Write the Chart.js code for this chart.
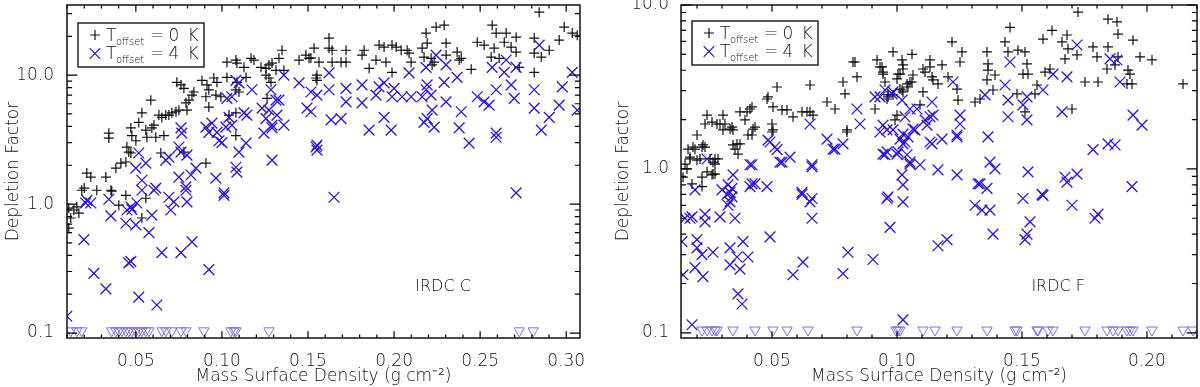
<!DOCTYPE html>
<html>
<head>
<meta charset="utf-8">
<script src="https://cdn.jsdelivr.net/npm/chart.js@4.4.0/dist/chart.umd.min.js"></script>
<style>
html, body { margin: 0; padding: 0; background: #fff; }
#wrap { position: relative; width: 1200px; height: 387px; }
canvas { position: absolute; top: 0; }
#cLeft { left: 0; }
#cRight { left: 600px; }
</style>
</head>
<body>
<div id="wrap">
  <canvas id="cLeft" width="600" height="387"></canvas>
  <canvas id="cRight" width="600" height="387"></canvas>
</div>
<script>
// ---- data: [mass surface density, depletion factor] ----
// IRDC C, T_offset = 0 K
const leftBlack = [
  [0.020,1.33],[0.0215,1.74],[0.0238,1.62],[0.0326,1.62],[0.036,1.26],[0.0384,1.90],[0.0413,2.08],[0.0442,2.12],
  [0.0448,2.77],[0.0459,2.53],[0.0471,2.49],[0.0343,3.25],[0.0343,3.55],[0.0471,3.9],[0.0477,3.4],[0.0517,4.3],
  [0.050,3.1],[0.0535,5.1],[0.0558,3.75],[0.0564,3.3],[0.0593,3.9],[0.0605,4.1],[0.0616,3.3],[0.0587,6.4],
  [0.0634,4.9],[0.0651,4.7],[0.0674,4.9],[0.0692,4.9],[0.0709,5.1],[0.0733,5.2],[0.075,5.35],[0.0663,3.4],
  [0.0645,2.49],[0.0738,8.8],[0.0762,8.4],[0.0779,7.9],[0.0791,6.1],[0.0808,6.4],[0.0826,7.0],[0.0837,7.4],
  [0.0797,5.35],[0.0779,2.53],[0.0907,2.08],[0.0884,9.1],[0.0913,8.4],[0.0924,7.7],[0.0907,6.8],[0.0953,9.5],
  [0.0971,8.8],[0.0924,5.65],[0.0965,7.0],[0.0994,6.8],[0.1029,9.6],[0.1041,4.9],[0.1081,5.1],[0.1029,12.6],
  [0.1081,13.1],[0.1087,12.4],[0.1128,11.5],[0.114,9.6],[0.1087,8.8],[0.1099,7.4],[0.1081,7.7],[0.1081,3.4],
  [0.1169,13.5],[0.1186,13.1],[0.1227,11.5],[0.1256,11.3],[0.1273,12.0],[0.1291,12.4],[0.1314,10.9],[0.1331,13.5],
  [0.1349,15.6],[0.1256,10.0],[0.1273,9.5],[0.1285,8.8],[0.1262,6.6],[0.1448,13.1],[0.1488,14.3],[0.1506,13.5],
  [0.1535,16.2],[0.1547,9.5],[0.136,10.9],[0.1517,13.6],[0.1564,12.6],[0.1552,10.0],[0.1552,9.1],[0.1622,19.4],
  [0.1622,16.2],[0.164,15.6],[0.164,12.6],[0.1692,12.6],[0.1721,15.6],[0.1721,12.6],[0.1826,15.6],[0.1814,14.3],
  [0.1855,11.3],[0.1895,13.1],[0.1913,17.1],[0.1942,16.5],[0.1953,12.6],[0.1988,17.1],[0.2012,16.5],[0.2041,15.6],
  [0.2076,15.6],[0.2087,14.8],[0.2099,12.6],[0.1988,10.5],[0.2163,16.2],[0.2186,21.2],[0.2192,17.7],[0.2174,13.8],
  [0.2215,13.5],[0.2221,12.0],[0.2233,12.6],[0.2244,23.6],[0.2291,24.4],[0.2302,17.7],[0.2302,14.3],[0.2366,15.1],
  [0.2378,13.1],[0.239,13.5],[0.2448,11.1],[0.2483,18.0],[0.2523,17.1],[0.257,24.4],[0.2593,21.2],[0.2581,16.2],
  [0.2564,13.8],[0.261,13.5],[0.2651,21.2],[0.264,18.0],[0.268,16.5],[0.2709,19.7],[0.2709,15.1],[0.2727,11.5],
  [0.2814,19.4],[0.2814,14.8],[0.2855,13.8],[0.2901,15.6],[0.2843,30.8],[0.2959,18.7],[0.2988,23.6],[0.3035,21.2],
  [0.3064,20.4],[0.2814,10.5],[0.011,0.93],[0.014,0.90],[0.0169,0.85],[0.0122,0.78],[0.011,0.65],[0.0401,0.98],
  [0.0442,1.17],[0.0535,0.78],[0.0558,1.11],[0.0355,1.28],[0.0186,1.28],[0.0273,1.28],[0.0157,0.95]
];
// IRDC C, T_offset = 4 K
const leftBlue = [
  [0.0215,1.07],[0.0517,2.49],[0.050,1.90],[0.0535,1.53],[0.0616,1.33],[0.0558,2.08],[0.0674,2.19],[0.0692,2.31],
  [0.0762,3.9],[0.0767,3.55],[0.075,2.77],[0.0762,2.53],[0.0797,2.40],[0.0849,1.90],[0.082,1.68],[0.075,1.62],
  [0.0791,1.36],[0.0907,3.95],[0.0924,3.6],[0.0942,4.25],[0.0971,3.6],[0.0983,3.1],[0.100,3.0],[0.1023,3.95],
  [0.1041,4.7],[0.1058,4.1],[0.0965,1.59],[0.1012,1.22],[0.1081,1.93],[0.1087,1.77],[0.1099,2.53],[0.114,2.97],
  [0.1029,6.6],[0.1058,6.8],[0.1099,8.7],[0.1128,5.1],[0.1145,4.9],[0.1174,7.7],[0.1081,9.1],[0.1233,5.55],
  [0.1256,4.6],[0.1273,5.35],[0.1291,4.1],[0.132,4.9],[0.136,4.1],[0.1244,3.55],[0.1291,3.9],[0.1285,7.7],
  [0.1314,6.4],[0.1291,2.19],[0.136,10.0],[0.1448,8.7],[0.1517,7.4],[0.1494,5.55],[0.1547,2.77],[0.1331,6.4],
  [0.1552,7.0],[0.1517,5.2],[0.1622,10.4],[0.1622,7.7],[0.1634,4.5],[0.1692,4.6],[0.1721,7.9],[0.1721,6.2],
  [0.1552,2.87],[0.1552,2.62],[0.1814,8.4],[0.1814,6.1],[0.1855,3.75],[0.1895,7.0],[0.1913,8.1],[0.1942,8.7],
  [0.1942,4.7],[0.1988,6.8],[0.200,7.9],[0.1983,3.75],[0.2047,6.8],[0.2099,6.8],[0.2087,10.4],[0.2163,6.8],
  [0.2186,7.7],[0.2192,8.4],[0.2215,7.0],[0.2221,5.35],[0.2192,4.6],[0.2174,4.3],[0.2233,3.95],[0.2186,11.5],
  [0.2244,14.3],[0.2302,12.0],[0.2291,8.8],[0.2302,6.2],[0.2366,9.6],[0.239,5.2],[0.2378,3.9],[0.2436,2.97],
  [0.2483,6.8],[0.2523,6.2],[0.2552,5.85],[0.2593,7.7],[0.257,11.5],[0.264,10.5],[0.2651,13.1],[0.268,8.4],
  [0.2698,6.6],[0.2709,11.5],[0.2593,3.55],[0.2593,3.3],[0.2814,7.7],[0.2814,5.55],[0.2855,3.75],[0.2843,17.1],
  [0.2901,4.7],[0.2959,5.85],[0.2977,8.1],[0.3035,10.5],[0.3064,5.35],[0.1651,1.13],[0.2709,1.22],[0.0099,0.135],
  [0.0198,0.53],[0.0209,1.02],[0.0238,1.02],[0.0256,0.29],[0.0326,0.22],[0.0343,1.09],[0.0355,0.81],[0.0442,0.71],
  [0.0459,0.35],[0.0471,0.36],[0.0448,0.90],[0.0477,0.91],[0.0471,0.95],[0.050,0.69],[0.0506,1.02],[0.0517,0.19],
  [0.0535,1.28],[0.0576,0.60],[0.0593,0.82],[0.0605,1.28],[0.0622,0.165],[0.0651,0.42],[0.0692,1.13],[0.0703,0.90],
  [0.0721,1.04],[0.0762,0.42],[0.0797,1.04],[0.0826,0.51],[0.0791,1.28],[0.0924,0.31],[0.1012,1.17]
];
// IRDC C, upper limits (drawn at the floor)
const leftLimX = [
  0.0122,0.0157,0.0186,0.036,0.0384,0.0401,0.0419,0.0442,0.0459,0.0477,0.050,0.0517,0.0535,0.0558,
  0.0576,0.0651,0.0674,0.0709,0.0762,0.0791,0.0895,0.1052,0.107,0.1081,0.1273,0.2727,0.2808
];

// IRDC F, T_offset = 0 K
const rightBlack = [
  [0.0144,0.89],[0.018,0.81],[0.022,0.89],[0.024,0.96],[0.020,1.13],[0.0172,1.15],[0.0212,1.15],[0.0192,1.32],
  [0.022,1.36],[0.0232,1.36],[0.020,1.61],[0.024,2.13],[0.026,1.93],[0.028,1.88],[0.0304,2.13],[0.0312,1.88],
  [0.0332,1.75],[0.034,1.80],[0.0344,1.73],[0.036,1.42],[0.0372,1.42],[0.0364,1.23],[0.0352,1.32],[0.0252,1.15],
  [0.0264,1.10],[0.0284,1.15],[0.0264,0.93],[0.0372,2.23],[0.040,2.23],[0.0412,2.32],[0.042,2.39],[0.0424,1.75],
  [0.0404,1.61],[0.0392,1.99],[0.048,2.67],[0.0484,2.75],[0.052,3.16],[0.0504,2.39],[0.050,1.88],[0.0504,1.73],
  [0.054,2.29],[0.056,2.29],[0.0584,2.08],[0.062,2.23],[0.064,2.23],[0.0652,2.23],[0.0664,2.13],[0.0652,3.25],
  [0.072,2.56],[0.0752,2.32],[0.0784,3.39],[0.0792,2.87],[0.080,1.73],[0.0824,4.49],[0.0832,4.49],[0.084,3.64],
  [0.0912,2.32],[0.092,4.62],[0.094,4.19],[0.0944,3.90],[0.0952,3.39],[0.096,2.67],[0.0964,2.83],[0.0984,5.17],
  [0.100,3.54],[0.1004,3.79],[0.102,4.62],[0.1024,4.07],[0.1012,3.07],[0.102,3.03],[0.1024,2.95],[0.104,3.30],
  [0.106,5.0],[0.106,3.39],[0.100,2.13],[0.0992,1.99],[0.016,1.0],[0.0164,1.32],[0.022,0.78],[0.026,0.92],
  [0.0272,1.15],[0.0232,1.88],[0.0292,1.88],[0.0304,1.73],[0.0432,1.80],[0.042,1.61],[0.050,1.68],[0.0184,1.36],
  [0.0224,1.40],[0.0344,1.40],[0.0172,1.18],[0.0152,1.07],[0.0272,1.07],[0.0272,0.93],[0.080,1.68],[0.0932,4.19],
  [0.0944,3.79],[0.1024,4.31],[0.1064,3.74],[0.1012,3.79],[0.1044,3.16],[0.1052,3.39],[0.0964,2.75],[0.0984,2.83],
  [0.1092,2.46],[0.1104,4.07],[0.1112,3.90],[0.1104,2.95],[0.1132,4.62],[0.1132,4.19],[0.114,3.64],[0.1144,3.49],
  [0.1164,3.30],[0.118,4.31],[0.1204,3.64],[0.122,5.95],[0.126,5.17],[0.1252,4.49],[0.124,3.07],[0.1244,2.63],
  [0.1312,2.56],[0.1332,2.67],[0.136,5.17],[0.1364,4.37],[0.1364,4.01],[0.136,3.49],[0.1392,3.74],[0.1384,3.03],
  [0.1432,5.95],[0.1444,5.17],[0.1452,7.3],[0.148,2.87],[0.1484,5.3],[0.1504,3.79],[0.1512,5.17],[0.152,4.37],
  [0.1524,3.79],[0.1512,2.23],[0.156,3.25],[0.1552,2.87],[0.1584,6.2],[0.1592,3.90],[0.162,7.0],[0.1612,4.07],
  [0.166,5.95],[0.1672,4.69],[0.168,6.56],[0.1684,5.4],[0.170,2.32],[0.172,4.96],[0.1724,9.06],[0.1752,3.39],
  [0.1784,5.55],[0.180,4.82],[0.1804,3.39],[0.1844,8.2],[0.1844,5.55],[0.184,4.07],[0.188,7.9],[0.1884,6.65],
  [0.1872,4.31],[0.1884,4.82],[0.1924,4.01],[0.1932,3.79],[0.194,3.30],[0.192,3.30],[0.1944,6.1],[0.1972,4.82],
  [0.202,4.62],[0.2144,3.30]
];
// IRDC F, T_offset = 4 K
const rightBlue = [
  [0.024,1.15],[0.0344,0.92],[0.042,1.06],[0.0484,1.50],[0.0512,1.36],[0.054,1.10],[0.0572,1.18],[0.0652,1.88],
  [0.066,1.06],[0.072,1.52],[0.0752,1.32],[0.0784,1.42],[0.084,2.32],[0.0912,2.75],[0.0944,1.85],[0.096,1.73],
  [0.096,1.27],[0.0952,1.22],[0.0984,2.95],[0.1004,1.27],[0.102,2.63],[0.1024,1.63],[0.1032,1.46],[0.104,1.22],
  [0.102,0.92],[0.1024,0.80],[0.1052,1.10],[0.1064,1.75],[0.108,2.32],[0.0192,0.745],[0.030,0.745],[0.0332,0.72],
  [0.042,0.81],[0.048,0.78],[0.062,0.70],[0.066,0.66],[0.0964,0.675],[0.0932,2.75],[0.0952,3.03],[0.098,2.87],
  [0.0984,1.73],[0.0944,1.23],[0.100,1.23],[0.1012,1.52],[0.1024,1.42],[0.1032,2.08],[0.1052,2.32],[0.1052,1.07],
  [0.1092,1.06],[0.1112,1.99],[0.112,1.85],[0.1132,2.08],[0.1144,2.13],[0.114,2.56],[0.1132,1.46],[0.118,1.52],
  [0.1164,0.986],[0.1224,3.39],[0.1252,2.13],[0.1252,1.88],[0.124,1.57],[0.124,0.92],[0.1324,0.81],[0.136,0.76],
  [0.1352,2.83],[0.1364,1.57],[0.1372,1.10],[0.1392,1.0],[0.1432,3.25],[0.1444,2.63],[0.1444,2.08],[0.1452,4.49],
  [0.1504,2.46],[0.152,2.75],[0.152,1.99],[0.1584,3.03],[0.1524,0.96],[0.1504,0.66],[0.158,0.70],[0.1624,3.79],
  [0.166,2.23],[0.168,3.64],[0.172,5.7],[0.1672,0.89],[0.168,0.83],[0.172,0.93],[0.1784,1.31],[0.1852,4.69],
  [0.188,4.62],[0.1892,3.39],[0.1844,1.42],[0.1872,1.40],[0.1944,2.13],[0.198,1.85],[0.194,0.78],[0.0152,0.50],
  [0.018,0.51],[0.0232,0.53],[0.0232,0.475],[0.0292,0.51],[0.0352,0.50],[0.032,0.70],[0.034,0.76],[0.0332,0.63],
  [0.034,0.675],[0.0324,0.80],[0.0412,0.78],[0.0432,0.81],[0.0412,1.06],[0.0492,1.46],[0.052,1.31],[0.0532,1.10],
  [0.066,1.03],[0.062,0.72],[0.0652,0.63],[0.066,0.50],[0.0744,1.32],[0.0492,0.385],[0.014,0.36],[0.020,0.37],
  [0.020,0.33],[0.022,0.30],[0.0264,0.31],[0.0332,0.33],[0.0384,0.36],[0.036,0.29],[0.0404,0.29],[0.0332,0.26],
  [0.0372,0.245],[0.0192,0.25],[0.0224,0.22],[0.0144,0.226],[0.0364,0.173],[0.038,0.15],[0.0584,0.226],[0.0624,0.27],
  [0.0784,0.23],[0.0804,0.31],[0.0904,0.28],[0.096,0.66],[0.0972,0.44],[0.1024,0.63],[0.1332,0.81],[0.1312,0.60],
  [0.134,0.56],[0.1372,0.56],[0.1384,0.40],[0.1164,0.34],[0.120,0.37],[0.1024,0.12],[0.1044,1.57],[0.1072,1.73],
  [0.114,1.42],[0.124,1.61],[0.0932,1.68],[0.0852,1.88],[0.018,0.112],[0.0172,0.50],[0.0324,0.60],[0.1532,0.475],
  [0.152,0.40],[0.1512,0.37],[0.1584,0.69],[0.170,0.60],[0.1792,0.50],[0.1804,0.53]
];
// IRDC F, upper limits
const rightLimX = [
  0.022,0.024,0.026,0.0272,0.028,0.0344,0.0432,0.0504,0.056,0.0644,0.084,0.0996,0.1004,0.1012,0.1104,0.1152,
  0.124,0.136,0.1472,0.148,0.156,0.1564,0.1604,0.1624,0.1752,0.184,0.1864,0.1884,0.192,0.1932,0.1944,0.202,
  0.2144,0.2184
];
const limY = 0.104;

const xLabelsLeft = [0.05, 0.10, 0.15, 0.20, 0.25, 0.30];
const xLabelsRight = [0.05, 0.10, 0.15, 0.20];
const yLabels = [0.1, 1, 10];

const FONT = '"DejaVu Sans", sans-serif';
const WEIGHT = '200';
const TEXT = '#111';
const BLUE = '#2a14d8';

// frame, inward ticks, legend and panel label
const framePlugin = {
  id: 'frameTicks',
  afterDatasetsDraw(chart, args, o) {
    const ctx = chart.ctx, a = chart.chartArea;
    const xs = chart.scales.x, ys = chart.scales.y;
    ctx.save();
    ctx.strokeStyle = '#000';
    ctx.lineWidth = 1.4;
    ctx.strokeRect(a.left, a.top, a.right - a.left, a.bottom - a.top);
    ctx.lineWidth = 1.2;
    ctx.beginPath();
    // x ticks every 0.01, long ones at 0.05
    for (let i = Math.ceil(xs.min * 100); i <= Math.floor(xs.max * 100); i++) {
      const px = xs.getPixelForValue(i / 100);
      const len = i % 5 === 0 ? 6.7 : 3.4;
      ctx.moveTo(px, a.bottom); ctx.lineTo(px, a.bottom - len);
      ctx.moveTo(px, a.top); ctx.lineTo(px, a.top + len);
    }
    // log y ticks
    for (let d = 0.01; d <= 100; d *= 10) {
      for (let k = 1; k <= 9; k++) {
        const v = d * k;
        if (v < ys.min || v > ys.max * 1.0001) continue;
        const py = ys.getPixelForValue(v);
        const len = k === 1 ? 10.3 : 5.1;
        ctx.moveTo(a.left, py); ctx.lineTo(a.left + len, py);
        ctx.moveTo(a.right, py); ctx.lineTo(a.right - len, py);
      }
    }
    ctx.stroke();

    // legend box
    const bx = a.left + o.legendDx, by = a.top + o.legendDy;
    ctx.lineWidth = 1.3;
    ctx.strokeRect(bx, by, 126, 44);
    const rows = [
      { color: '#111', t: '0' },
      { color: BLUE, t: '4' }
    ];
    rows.forEach((r, i) => {
      const cy = by + 12 + i * 18.5;
      const mx = bx + 17;
      ctx.strokeStyle = r.color;
      ctx.lineWidth = 1.2;
      ctx.beginPath();
      if (i === 0) {
        ctx.moveTo(mx - 5, cy); ctx.lineTo(mx + 5, cy);
        ctx.moveTo(mx, cy - 5); ctx.lineTo(mx, cy + 5);
      } else {
        ctx.moveTo(mx - 5.3, cy - 5.3); ctx.lineTo(mx + 5.3, cy + 5.3);
        ctx.moveTo(mx + 5.3, cy - 5.3); ctx.lineTo(mx - 5.3, cy + 5.3);
      }
      ctx.stroke();
      ctx.fillStyle = TEXT;
      ctx.textBaseline = 'alphabetic';
      ctx.textAlign = 'left';
      const base = by + 17.5 + i * 18.5;
      ctx.font = WEIGHT + ' 17px ' + FONT;
      ctx.fillText('T', bx + 28, base);
      ctx.font = WEIGHT + ' 10px ' + FONT;
      ctx.fillText('offset', bx + 38, base + 4);
      ctx.font = WEIGHT + ' 17px ' + FONT;
      ctx.textAlign = 'center';
      ctx.fillText('=', bx + 79, base);
      ctx.fillText(r.t, bx + 96, base);
      ctx.fillText('K', bx + 115, base);
    });

    // panel label
    ctx.font = WEIGHT + ' 16px ' + FONT;
    ctx.fillStyle = TEXT;
    ctx.textAlign = 'center';
    ctx.textBaseline = 'middle';
    ctx.fillText(o.label, a.left + o.labelFx * (a.right - a.left), a.top + o.labelFy * (a.bottom - a.top));
    ctx.restore();
  }
};

function pts(arr) {
  return arr.map(p => ({ x: p[0], y: p[1] }));
}

function makePanel(id, p) {
  const font = { family: FONT, size: 17, weight: WEIGHT };
  return new Chart(document.getElementById(id), {
    type: 'scatter',
    data: {
      datasets: [
        { data: pts(p.black), pointStyle: 'cross', pointRadius: 5, borderColor: '#111', borderWidth: 1.2, order: 3, clip: 0 },
        { data: pts(p.blue), pointStyle: 'crossRot', pointRadius: 7.6, borderColor: BLUE, borderWidth: 1.3, order: 2, clip: 0 },
        { data: p.lim.map(v => ({ x: v, y: limY })), pointStyle: 'triangle', rotation: 180, pointRadius: 6,
          borderColor: '#7c72e4', backgroundColor: 'rgba(0,0,0,0)', borderWidth: 1, order: 1, clip: 0 }
      ]
    },
    options: {
      responsive: false,
      animation: false,
      devicePixelRatio: 1,
      events: [],
      layout: { autoPadding: false, padding: { left: 0, right: p.padRight, top: 5, bottom: 0 } },
      plugins: {
        legend: { display: false },
        tooltip: { enabled: false },
        frameTicks: { legendDx: p.legendDx, legendDy: p.legendDy, label: p.label, labelFx: p.labelFx, labelFy: 0.847 }
      },
      scales: {
        x: {
          type: 'linear', min: p.xMin, max: p.xMax,
          grid: { display: false }, border: { display: false },
          afterBuildTicks: s => { s.ticks = p.xLabels.map(v => ({ value: v })); },
          afterFit: s => { s.height = 49; s.paddingLeft = 0; s.paddingRight = 0; },
          ticks: { autoSkip: false, maxRotation: 0, padding: 5, color: TEXT, font: font,
                   callback: v => Number(v).toFixed(2) },
          title: { display: true, text: 'Mass Surface Density (g cm\u207B\u00B2)', color: TEXT,
                   font: font, padding: { top: 0, bottom: 0 } }
        },
        y: {
          type: 'logarithmic', min: p.yMin, max: p.yMax,
          grid: { display: false }, border: { display: false },
          afterBuildTicks: s => { s.ticks = yLabels.map(v => ({ value: v })); },
          afterFit: s => { s.width = p.yWidth; s.paddingTop = 0; s.paddingBottom = 0; },
          ticks: { autoSkip: false, padding: p.yPad, color: TEXT, font: font,
                   callback: v => Number(v).toFixed(1) },
          title: { display: true, text: 'Depletion Factor', color: TEXT,
                   font: font, padding: { top: p.yTitlePad, bottom: 0 } }
        }
      }
    },
    plugins: [framePlugin]
  });
}

makePanel('cLeft', {
  black: leftBlack, blue: leftBlue, lim: leftLimX,
  xMin: 0.01, xMax: 0.308, yMin: 0.0915, yMax: 35,
  xLabels: xLabelsLeft, padRight: 20, yWidth: 67, yPad: 5, yTitlePad: 3,
  legendDx: 11, legendDy: 18, label: 'IRDC C', labelFx: 0.733
});

makePanel('cRight', {
  black: rightBlack, blue: rightBlue, lim: rightLimX,
  xMin: 0.0136, xMax: 0.22, yMin: 0.093, yMax: 10,
  xLabels: xLabelsRight, padRight: 3, yWidth: 81, yPad: 4, yTitlePad: 13,
  legendDx: 11, legendDy: 16, label: 'IRDC F', labelFx: 0.731
});
</script>
</body>
</html>
